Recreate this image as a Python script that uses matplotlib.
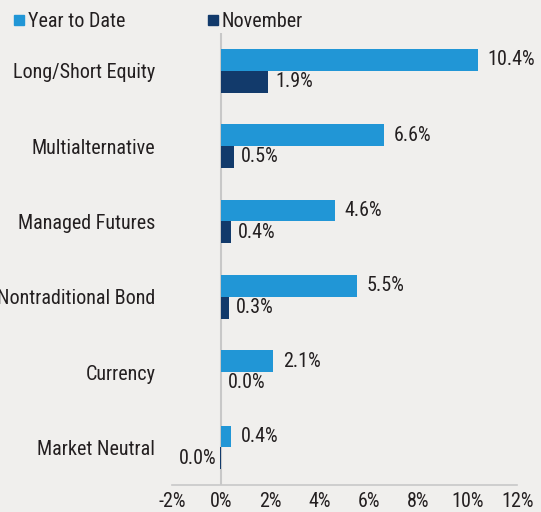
import matplotlib
matplotlib.use("Agg")
import matplotlib.pyplot as plt
from matplotlib.lines import Line2D
import numpy as np

categories = ["Long/Short Equity", "Multialternative", "Managed Futures",
              "Nontraditional Bond", "Currency", "Market Neutral"]
ytd = [10.4, 6.6, 4.6, 5.5, 2.1, 0.4]
november = [1.9, 0.5, 0.4, 0.3, 0.0, -0.04]
series_names = ["Year to Date", "November"]
xticks = [-2, 0, 2, 4, 6, 8, 10, 12]

C_YTD = "#2196d6"
C_NOV = "#123a6b"
BG = "#f0efed"
TXT = "#231f20"
FONT = ["Roboto Condensed", "DejaVu Sans"]
FS = 14.5

plt.rcParams["font.family"] = FONT

fig = plt.figure(figsize=(5.41, 5.12), dpi=100, facecolor=BG)
ax = fig.add_axes([0.318, 0.0527, 0.638, 0.8828], facecolor=BG)

y = np.arange(len(categories))
h = 0.29
ax.barh(y - h / 2, ytd, height=h, color=C_YTD, label=series_names[0])
ax.barh(y + h / 2, november, height=h, color=C_NOV, label=series_names[1])

def fmt(v):
    s = f"{v:.1f}%"
    return s.replace("-0.0%", "0.0%")

for yi, v in zip(y, ytd):
    ax.annotate(fmt(v), (max(v, 0), yi - h / 2), xytext=(7.2, 0),
                textcoords="offset points", va="center", ha="left",
                fontsize=FS, color=TXT)
for yi, v in zip(y, november):
    if v >= 0:
        ax.annotate(fmt(v), (v, yi + h / 2), xytext=(5, 0),
                    textcoords="offset points", va="center", ha="left",
                    fontsize=FS, color=TXT)
    else:
        ax.annotate(fmt(v), (v, yi + h / 2), xytext=(-3, 0),
                    textcoords="offset points", va="center", ha="right",
                    fontsize=FS, color=TXT)

ax.set_xlim(-2, 12)
ax.set_ylim(len(categories) - 0.5, -0.5)
ax.set_xticks(xticks)
ax.set_xticklabels([f"{t}%" for t in xticks], fontsize=FS, color=TXT)
ax.set_yticks(y)
ax.set_yticklabels(categories, fontsize=FS, color=TXT)
ax.tick_params(axis="x", length=0, pad=5)
ax.tick_params(axis="y", length=0, pad=12)
for s in ["top", "right", "left"]:
    ax.spines[s].set_visible(False)
ax.spines["bottom"].set_color("#c8c8c8")
ax.spines["bottom"].set_linewidth(1.2)
ax.axvline(0, color="#c8c8c8", lw=1.5, zorder=0)

handles = [Line2D([], [], marker="s", ls="none", color=C_YTD, markersize=6.5),
           Line2D([], [], marker="s", ls="none", color=C_NOV, markersize=6.5)]
fig.legend(handles, series_names, loc="upper left", bbox_to_anchor=(-0.008, 1.012),
           ncol=2, frameon=False, fontsize=FS, handlelength=0.55,
           handletextpad=0.15, columnspacing=4.1, labelcolor=TXT)

fig.savefig("out.png", dpi=100, facecolor=BG)
